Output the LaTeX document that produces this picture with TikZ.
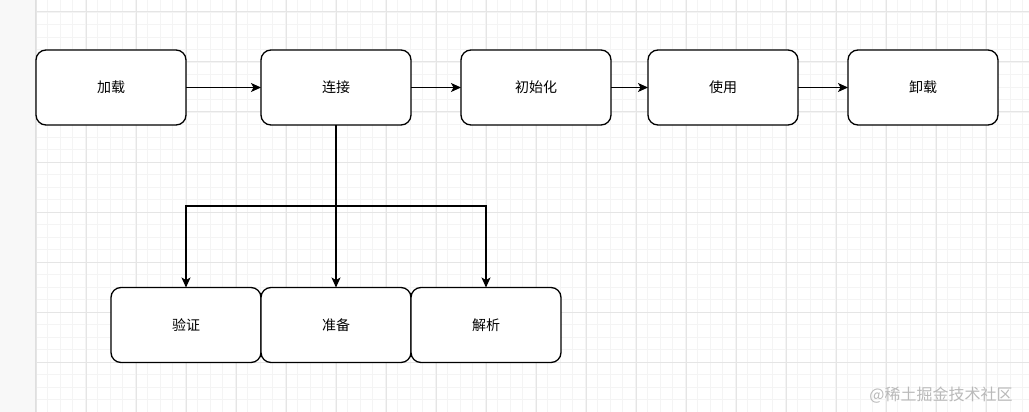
\documentclass[tikz,border=0pt]{standalone}
\usepackage{fontspec}
\newfontfamily\cjk{Noto Sans CJK SC}
\usetikzlibrary{arrows.meta}
\definecolor{minorgrid}{HTML}{F4F4F4}
\definecolor{majorgrid}{HTML}{E5E5E5}
\definecolor{sidebar}{HTML}{F8F8F8}
\begin{document}
\begin{tikzpicture}[x=1pt,y=-1pt,
        stage/.style={draw,line width=1.3pt,rounded corners=10pt,fill=white,
            minimum width=150pt,minimum height=75pt,inner sep=0pt,outer sep=0pt,
            font=\cjk\fontsize{14pt}{16pt}\selectfont},
        arr/.style={line width=1.1pt,-{Stealth[length=10pt,width=9pt,inset=2.5pt]}}]
    \useasboundingbox (0,0) rectangle (1029,412);
    \fill[white] (0,0) rectangle (1029,412);
    \fill[sidebar] (0,0) rectangle (35,412);
    \foreach \x in {35.25,47.75,...,1029} \draw[minorgrid,line width=0.8pt] (\x,0) -- (\x,412);
    \foreach \y in {-0.5,12,...,412} \draw[minorgrid,line width=0.8pt] (35,\y) -- (1029,\y);
    \foreach \x in {36,86,...,1029} \draw[majorgrid,line width=1pt] (\x,0) -- (\x,412);
    \foreach \y in {12,62,...,412} \draw[majorgrid,line width=1pt] (35,\y) -- (1029,\y);
    \draw[gray!25,line width=1pt] (35,0) -- (35,412);

    \node[stage] (load) at (111,87.5) {加载};
    \node[stage] (link) at (336,87.5) {连接};
    \node[stage] (init) at (536,87.5) {初始化};
    \node[stage] (use) at (723,87.5) {使用};
    \node[stage] (unload) at (923,87.5) {卸载};

    \node[stage] (verify) at (186,325) {验证};
    \node[stage] (prepare) at (336,325) {准备};
    \node[stage] (resolve) at (486,325) {解析};

    \draw[arr] (load) -- (link);
    \draw[arr] (link) -- (init);
    \draw[arr] (init) -- (use);
    \draw[arr] (use) -- (unload);

    \coordinate (fork) at (336,206);
    \draw[line width=1.6pt] (link) -- (fork);
    \draw[arr] (fork) -| (verify.north);
    \draw[arr] (fork) -- (prepare);
    \draw[arr] (fork) -| (resolve.north);

    \node[gray!55,font=\cjk\fontsize{16pt}{18pt}\selectfont] (mark) at (941,395) {@稀土掘金技术社区};
\end{tikzpicture}
\end{document}
